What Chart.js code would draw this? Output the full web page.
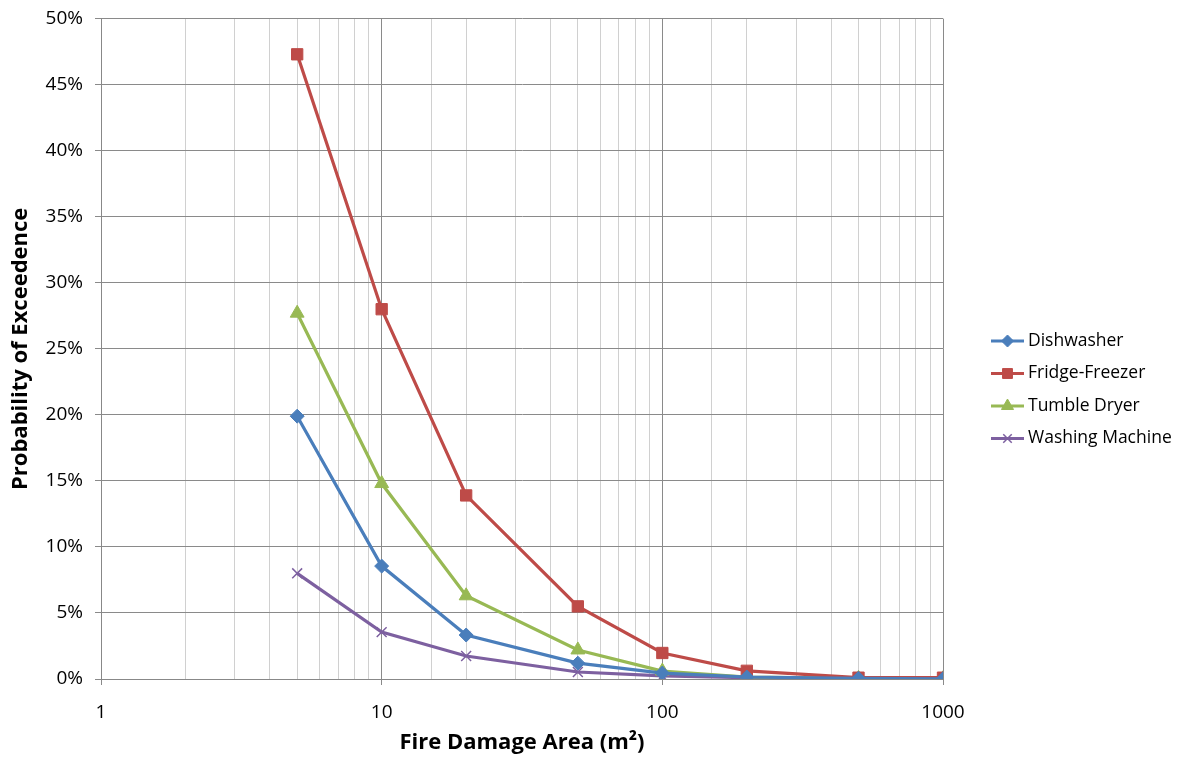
<!DOCTYPE html>
<html lang="en">
<head>
<meta charset="UTF-8">
<title>Probability of Exceedence</title>
<script src="https://cdn.jsdelivr.net/npm/chart.js"></script>
<style>
    html, body { margin: 0; padding: 0; background: #fff; }
    #wrap { width: 1180px; height: 760px; }
</style>
</head>
<body>
<div id="wrap"><canvas id="chart"></canvas></div>
<script>
    // fire damage area (m2) on log axis
    const areas = [5, 10, 20, 50, 100, 200, 500, 1000];

    // probability of exceedence, %
    const dishwasher     = [19.9, 8.55, 3.33, 1.2, 0.45, 0.15, 0.05, 0.02];
    const fridgeFreezer  = [47.3, 28.0, 13.9, 5.5, 1.97, 0.62, 0.1, 0.1];
    const tumbleDryer    = [27.7, 14.8, 6.3, 2.2, 0.6, 0.15, 0.05, 0.02];
    const washingMachine = [8.0, 3.55, 1.74, 0.53, 0.23, 0.1, 0.03, 0.02];

    const seriesNames = ['Dishwasher', 'Fridge-Freezer', 'Tumble Dryer', 'Washing Machine'];
    const xTickLabels = [1, 10, 100, 1000];

    const FONT = '"Open Sans", "Liberation Sans", sans-serif';

    function pts(values) {
        return areas.map((a, i) => ({ x: a, y: values[i] }));
    }

    const styles = [
        { color: '#4A7EBB', point: 'rectRot', radius: 7 },
        { color: '#BE4B48', point: 'rect', radius: 8 },
        { color: '#98B954', point: 'triangle', radius: 8 },
        { color: '#7D60A0', point: 'crossRot', radius: 7 }
    ];

    const datasets = [dishwasher, fridgeFreezer, tumbleDryer, washingMachine].map((vals, i) => ({
        label: seriesNames[i],
        data: pts(vals),
        borderColor: styles[i].color,
        backgroundColor: styles[i].color,
        borderWidth: 3.2,
        pointStyle: styles[i].point,
        pointRadius: styles[i].radius,
        pointBorderWidth: styles[i].point === 'crossRot' ? 1.5 : 1,
        tension: 0
    }));

    // legend with line + marker, like the spreadsheet one
    const sideLegend = {
        id: 'sideLegend',
        afterDraw(chart) {
            const ctx = chart.ctx;
            const x0 = 991, x1 = 1024;
            let y = 341;
            ctx.save();
            chart.data.datasets.forEach((ds) => {
                ctx.strokeStyle = ds.borderColor;
                ctx.lineWidth = 3;
                ctx.beginPath();
                ctx.moveTo(x0, y);
                ctx.lineTo(x1, y);
                ctx.stroke();
                ctx.fillStyle = ds.backgroundColor;
                ctx.strokeStyle = ds.borderColor;
                ctx.lineWidth = ds.pointBorderWidth;
                Chart.helpers.drawPoint(ctx, {
                    pointStyle: ds.pointStyle,
                    radius: ds.pointRadius - 1,
                    rotation: 0,
                    borderWidth: ds.pointBorderWidth
                }, (x0 + x1) / 2, y);
                ctx.fillStyle = '#000';
                ctx.font = '17.5px ' + FONT;
                ctx.textBaseline = 'middle';
                ctx.textAlign = 'left';
                ctx.fillText(ds.label, x1 + 4, y);
                y += 32.5;
            });
            ctx.restore();
        }
    };

    new Chart(document.getElementById('chart'), {
        type: 'line',
        data: { datasets },
        plugins: [sideLegend],
        options: {
            responsive: true,
            maintainAspectRatio: false,
            animation: false,
            layout: { padding: { top: 4, right: 237, bottom: 0, left: 0 } },
            plugins: {
                legend: { display: false },
                tooltip: { enabled: false }
            },
            scales: {
                x: {
                    type: 'logarithmic',
                    min: 1,
                    max: 1000,
                    afterFit: (s) => { s.height = 81; },
                    border: { color: '#888', width: 1 },
                    grid: {
                        color: (c) => xTickLabels.includes(c.tick.value) ? '#8a8a8a' : '#d0d0d0',
                        tickColor: (c) => xTickLabels.includes(c.tick.value) ? '#8a8a8a' : 'rgba(0,0,0,0)',
                        tickLength: 6,
                        lineWidth: 1
                    },
                    ticks: {
                        autoSkip: false,
                        maxRotation: 0,
                        color: '#000',
                        font: { family: FONT, size: 19 },
                        padding: 16,
                        callback: (v) => xTickLabels.includes(v) ? String(v) : ''
                    },
                    title: {
                        display: true,
                        text: 'Fire Damage Area (m²)',
                        color: '#000',
                        font: { family: FONT, size: 22, weight: 'bold' },
                        padding: { top: 2 }
                    }
                },
                y: {
                    min: 0,
                    max: 50,
                    afterFit: (s) => { s.width = 101; },
                    border: { color: '#888', width: 1 },
                    grid: {
                        color: '#8a8a8a',
                        tickLength: 6,
                        tickColor: '#8a8a8a'
                    },
                    ticks: {
                        stepSize: 5,
                        color: '#000',
                        font: { family: FONT, size: 19, lineHeight: 0.7 },
                        padding: 12,
                        callback: (v) => v + '%'
                    },
                    title: {
                        display: true,
                        text: 'Probability of Exceedence',
                        color: '#000',
                        font: { family: FONT, size: 22, weight: 'bold' },
                        padding: { top: 8, bottom: 2 }
                    }
                }
            }
        }
    });
</script>
</body>
</html>
